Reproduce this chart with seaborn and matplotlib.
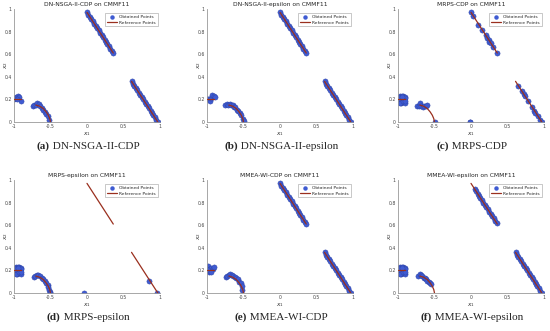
import numpy as np
import pandas as pd
import matplotlib
matplotlib.use("Agg")
import matplotlib.pyplot as plt
import seaborn as sns
from matplotlib.lines import Line2D
from matplotlib.offsetbox import TextArea, HPacker, AnnotationBbox

sns.set_style("white")
plt.rcParams["font.family"] = ["DejaVu Sans"]

# Reference (true) Pareto set pieces
ref_top_x = [0.00, 0.36]
ref_top_y = [0.97, 0.61]
ref_low_x = [0.61, 0.97]
ref_low_y = [0.36, 0.00]
ref_arc_x = [-0.70, -0.65, -0.60, -0.56, -0.53, -0.51, -0.50]
ref_arc_y = [0.15, 0.14, 0.12, 0.09, 0.06, 0.03, 0.00]
ref_left_x = [-1.00, -0.90]
ref_left_y = [0.20, 0.20]

# dense pieces shared by several algorithms
top_x = [0.00, 0.02, 0.04, 0.06, 0.08, 0.10, 0.12, 0.14, 0.16, 0.18, 0.20, 0.22, 0.24, 0.26, 0.28, 0.30, 0.32, 0.34, 0.36]
top_y = [0.97, 0.95, 0.93, 0.91, 0.89, 0.87, 0.85, 0.83, 0.81, 0.79, 0.77, 0.75, 0.73, 0.71, 0.69, 0.67, 0.65, 0.63, 0.61]
low_x = [0.61, 0.63, 0.65, 0.67, 0.69, 0.71, 0.73, 0.75, 0.77, 0.79, 0.81, 0.83, 0.85, 0.87, 0.89, 0.91, 0.93, 0.95, 0.97]
low_y = [0.36, 0.34, 0.32, 0.30, 0.28, 0.26, 0.24, 0.22, 0.20, 0.18, 0.16, 0.14, 0.12, 0.10, 0.08, 0.06, 0.04, 0.02, 0.00]
blob_x = [-1.00, -0.99, -0.98, -0.97, -0.96, -0.95, -0.94, -0.93, -0.92, -0.91, -0.90, -0.99, -0.97, -0.95, -0.93, -0.91, -0.98, -0.94, -0.90]
blob_y = [0.18, 0.22, 0.19, 0.23, 0.17, 0.21, 0.18, 0.23, 0.20, 0.17, 0.22, 0.20, 0.17, 0.23, 0.19, 0.21, 0.21, 0.22, 0.19]

# (a) DN-NSGA-II-CDP
a_left_x = [-1.00, -0.98, -0.97, -0.95, -0.93, -0.91, -0.96]
a_left_y = [0.20, 0.21, 0.22, 0.23, 0.22, 0.19, 0.20]
a_mid_x = [-0.74, -0.72, -0.70, -0.68, -0.66, -0.64, -0.62, -0.60, -0.58, -0.56, -0.54, -0.52]
a_mid_y = [0.14, 0.15, 0.15, 0.17, 0.16, 0.14, 0.12, 0.11, 0.09, 0.07, 0.05, 0.02]

# (b) DN-NSGA-II-epsilon
b_left_x = [-1.00, -0.98, -0.96, -0.94, -0.93, -0.91, -0.89]
b_left_y = [0.20, 0.20, 0.19, 0.21, 0.24, 0.23, 0.22]
b_mid_x = [-0.75, -0.73, -0.71, -0.69, -0.67, -0.65, -0.63, -0.61, -0.59, -0.57, -0.55, -0.53, -0.51, -0.50]
b_mid_y = [0.15, 0.16, 0.15, 0.16, 0.15, 0.15, 0.13, 0.13, 0.11, 0.10, 0.08, 0.06, 0.03, 0.01]

# (c) MRPS-CDP
c_top_x = [0.00, 0.03, 0.10, 0.15, 0.20, 0.22, 0.24, 0.25, 0.27, 0.30, 0.35]
c_top_y = [0.97, 0.94, 0.86, 0.81, 0.77, 0.74, 0.73, 0.71, 0.70, 0.66, 0.61]
c_low_x = [0.65, 0.70, 0.72, 0.74, 0.78, 0.84, 0.86, 0.88, 0.92, 0.95, 0.97]
c_low_y = [0.32, 0.27, 0.25, 0.23, 0.19, 0.13, 0.10, 0.08, 0.05, 0.02, 0.00]
c_mid_x = [-0.74, -0.71, -0.70, -0.68, -0.66, -0.64, -0.62, -0.60, -0.50, -0.02, -0.01]
c_mid_y = [0.14, 0.14, 0.17, 0.14, 0.13, 0.14, 0.14, 0.15, 0.00, 0.00, 0.00]

# (d) MRPS-epsilon
d_low_x = [0.85, 0.96]
d_low_y = [0.11, 0.00]
d_mid_x = [-0.73, -0.71, -0.69, -0.67, -0.65, -0.62, -0.60, -0.58, -0.56, -0.54, -0.53, -0.52, -0.51, -0.51, -0.04]
d_mid_y = [0.14, 0.15, 0.16, 0.16, 0.15, 0.13, 0.12, 0.11, 0.09, 0.07, 0.05, 0.03, 0.01, 0.00, 0.00]

# (e) MMEA-WI-CDP
e_left_x = [-1.00, -0.99, -0.97, -0.96, -0.94, -0.92, -0.90, -0.98, -0.95]
e_left_y = [0.22, 0.24, 0.19, 0.21, 0.22, 0.21, 0.23, 0.20, 0.19]
e_mid_x = [-0.74, -0.72, -0.70, -0.68, -0.66, -0.64, -0.62, -0.60, -0.58, -0.56, -0.54, -0.52, -0.52]
e_mid_y = [0.14, 0.15, 0.16, 0.17, 0.16, 0.15, 0.14, 0.13, 0.12, 0.10, 0.09, 0.06, 0.03]

# (f) MMEA-WI-epsilon
f_top_x = [0.05, 0.07, 0.09, 0.11, 0.13, 0.15, 0.17, 0.19, 0.21, 0.23, 0.25, 0.27, 0.29, 0.31, 0.33, 0.35]
f_top_y = [0.92, 0.90, 0.88, 0.86, 0.84, 0.82, 0.80, 0.78, 0.76, 0.74, 0.72, 0.70, 0.68, 0.66, 0.64, 0.62]
f_mid_x = [-0.72, -0.70, -0.68, -0.67, -0.65, -0.63, -0.62, -0.60, -0.58, -0.56, -0.55]
f_mid_y = [0.15, 0.17, 0.16, 0.15, 0.13, 0.13, 0.12, 0.11, 0.10, 0.09, 0.08]

titles = ["DN-NSGA-II-CDP", "DN-NSGA-II-epsilon", "MRPS-CDP",
          "MRPS-epsilon", "MMEA-WI-CDP", "MMEA-WI-epsilon"]
letters = ["(a)", "(b)", "(c)", "(d)", "(e)", "(f)"]

obtained = [
    (top_x + low_x + a_left_x + a_mid_x, top_y + low_y + a_left_y + a_mid_y),
    (top_x + low_x + b_left_x + b_mid_x, top_y + low_y + b_left_y + b_mid_y),
    (c_top_x + c_low_x + blob_x + c_mid_x, c_top_y + c_low_y + blob_y + c_mid_y),
    (d_low_x + blob_x + d_mid_x, d_low_y + blob_y + d_mid_y),
    (top_x + low_x + e_left_x + e_mid_x, top_y + low_y + e_left_y + e_mid_y),
    (f_top_x + low_x + blob_x + f_mid_x, f_top_y + low_y + blob_y + f_mid_y),
]

ref_pieces = [(ref_top_x, ref_top_y), (ref_low_x, ref_low_y),
              (ref_arc_x, ref_arc_y), (ref_left_x, ref_left_y)]

pt_color = "#3f5bd2"
ref_color = "#9a2f1e"

fig = plt.figure(figsize=(5.5, 3.31), dpi=100)
W, H = 550, 331
lefts = [14, 207, 398]
bottoms = [122, 293]
aw, ah = 146, 113

for i in range(6):
    r, c = divmod(i, 3)
    ax = fig.add_axes([lefts[c] / W, 1 - bottoms[r] / H, aw / W, ah / H])

    for rx, ry in ref_pieces:
        seg = pd.DataFrame({"x": rx, "y": ry})
        sns.lineplot(data=seg, x="x", y="y", ax=ax, color=ref_color,
                     linewidth=0.9, sort=False, estimator=None, zorder=3)

    ox, oy = obtained[i]
    df = pd.DataFrame({"x": ox, "y": oy})
    sns.scatterplot(data=df, x="x", y="y", ax=ax, color=pt_color, s=14,
                    edgecolor="#2b40a0", linewidth=0.3, zorder=2)

    ax.set_xlim(-1, 1)
    ax.set_ylim(0, 1)
    ax.set_xticks([-1, -0.5, 0, 0.5, 1])
    ax.set_xticklabels(["-1", "-0.5", "0", "0.5", "1"])
    ax.set_yticks([0, 0.2, 0.4, 0.6, 0.8, 1])
    ax.set_yticklabels(["0", "0.2", "0.4", "0.6", "0.8", "1"])
    ax.tick_params(labelsize=3.3, colors="#444444", direction="in",
                   length=1.5, width=0.4, pad=1.5)
    for side in ["top", "right"]:
        ax.spines[side].set_visible(False)
    for side in ["left", "bottom"]:
        ax.spines[side].set_color("#999999")
        ax.spines[side].set_linewidth(0.6)
    ax.set_xlabel(r"$x_1$", fontsize=4.2, labelpad=1, color="#333333")
    ax.set_ylabel(r"$x_2$", fontsize=4.2, labelpad=0, color="#333333")
    ax.yaxis.set_label_coords(-0.025, 0.5)
    ax.set_title(titles[i] + " on CMMF11", fontsize=4.3, pad=2.5, color="#222222")

    handles = [Line2D([], [], marker="o", linestyle="none", color=pt_color,
                      markersize=2.2),
               Line2D([], [], color=ref_color, linewidth=0.9)]
    leg = ax.legend(handles, ["Obtained Points", "Reference Points"],
                    loc="upper right", bbox_to_anchor=(1.0, 0.98),
                    fontsize=3.2, frameon=True, fancybox=False,
                    handlelength=2.2, borderpad=0.4, labelspacing=0.25,
                    handletextpad=0.6)
    leg.get_frame().set_linewidth(0.4)
    leg.get_frame().set_edgecolor("#888888")

    # caption under panel
    cap_y = 1 - (bottoms[r] + 24) / H
    cap_x = (lefts[c] + 74) / W
    t1 = TextArea(letters[i], textprops=dict(fontsize=8, fontweight="bold",
                                             family="Liberation Serif"))
    t2 = TextArea(" " + titles[i], textprops=dict(fontsize=8,
                                                  family="Liberation Serif"))
    box = HPacker(children=[t1, t2], align="baseline", pad=0, sep=0)
    ab = AnnotationBbox(box, (cap_x, cap_y), xycoords="figure fraction",
                        frameon=False, box_alignment=(0.5, 0.5))
    fig.add_artist(ab)

fig.savefig("out.png", dpi=100)
